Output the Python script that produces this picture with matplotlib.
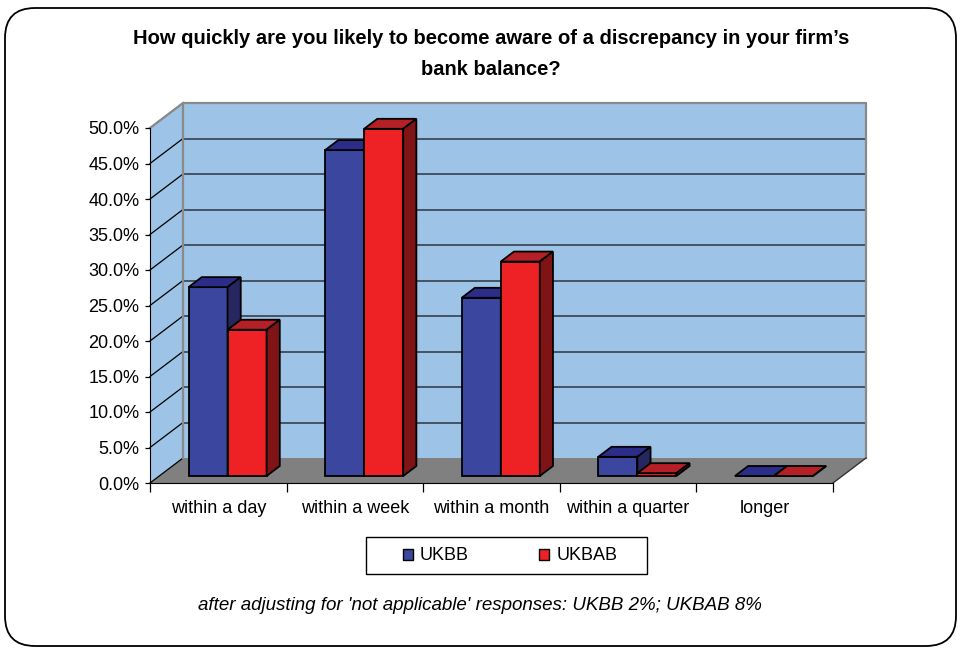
import matplotlib.pyplot as plt
from matplotlib.patches import Polygon, Patch, FancyBboxPatch, Rectangle

plt.rcParams['font.family'] = ['Liberation Sans', 'DejaVu Sans']

categories = ['within a day', 'within a week', 'within a month', 'within a quarter', 'longer']
ukbb = [26.6, 45.9, 25.1, 2.7, 0.0]
ukbab = [20.6, 48.9, 30.2, 0.4, 0.0]
series_names = ['UKBB', 'UKBAB']
y_ticks = [0, 5, 10, 15, 20, 25, 30, 35, 40, 45, 50]

# face colours: front, top, side
blue = ('#3b469e', '#2c2d88', '#262660')
red = ('#ee2224', '#b42025', '#7e1416')

# depth of the 3d box in data units (x in categories, y in percent)
DX, DY = 0.2416, 3.52
ymax = 50

fig = plt.figure(figsize=(9.61, 6.5), dpi=100)
ax = fig.add_axes([150 / 961, 1 - 483 / 650, 717 / 961, 382 / 650])
ax.set_xlim(0, 717 / 136.6)
ax.set_ylim(0, 382 / 7.1)
n = len(categories)


def poly(pts, fc, ec='none', lw=1.0, z=1):
    p = Polygon(pts, closed=True, facecolor=fc, edgecolor=ec, linewidth=lw,
                zorder=z, clip_on=False, joinstyle='miter')
    ax.add_patch(p)


# walls and floor
wall = '#9dc3e6'
poly([(DX, DY), (n + DX, DY), (n + DX, ymax + DY), (DX, ymax + DY)], wall, z=0)
poly([(0, 0), (DX, DY), (DX, ymax + DY), (0, ymax)], wall, z=0)
poly([(0, 0), (n, 0), (n + DX, DY), (DX, DY)], '#808080', z=0.5)

for t in y_ticks[1:]:
    ax.plot([DX, n + DX], [t + DY, t + DY], color='#2e3540', lw=1.1, zorder=1, clip_on=False)
for t in y_ticks:
    ax.plot([0, DX], [t, t + DY], color='black', lw=0.9, zorder=1, clip_on=False)

# wall borders
ax.plot([DX, DX, n + DX, n + DX], [DY, ymax + DY, ymax + DY, DY],
        color='#8a8a8a', lw=1.6, zorder=1.5, clip_on=False)
ax.plot([0, DX], [ymax, ymax + DY], color='#8a8a8a', lw=1.6, zorder=1.5, clip_on=False)
ax.plot([n, n + DX], [0, DY], color='#333333', lw=1.0, zorder=1.5, clip_on=False)

# bars
bw = 1 / 3.5
z0, z1 = 0.28, 0.68
for i in range(n):
    for s, (vals, cols) in enumerate([(ukbb, blue), (ukbab, red)]):
        v = vals[i]
        xl = i + 0.75 * bw + s * bw + z0 * DX
        xr = xl + bw
        y0 = z0 * DY
        ddx, ddy = (z1 - z0) * DX, (z1 - z0) * DY
        zz = 3 + i * 2 + s
        poly([(xl, y0), (xr, y0), (xr, y0 + v), (xl, y0 + v)], cols[0], 'black', 1.3, zz)
        poly([(xl, y0 + v), (xr, y0 + v), (xr + ddx, y0 + v + ddy), (xl + ddx, y0 + v + ddy)],
             cols[1], 'black', 1.3, zz)
        poly([(xr, y0), (xr + ddx, y0 + ddy), (xr + ddx, y0 + v + ddy), (xr, y0 + v)],
             cols[2], 'black', 1.3, zz)

# axes
for side in ['top', 'right']:
    ax.spines[side].set_visible(False)
ax.spines['left'].set_bounds(0, ymax)
ax.spines['bottom'].set_bounds(0, n)
ax.spines['left'].set_zorder(2)
ax.spines['bottom'].set_zorder(2)
ax.set_yticks(y_ticks)
ax.set_yticklabels([f'{t:.1f}%' for t in y_ticks], fontsize=13)
ax.tick_params(axis='y', length=3.5, width=0.9, pad=4)
ax.set_xticks(range(n + 1))
ax.set_xticklabels([])
ax.set_xticks([i + 0.5 for i in range(n)], minor=True)
ax.set_xticklabels(categories, minor=True, fontsize=13)
ax.tick_params(axis='x', which='major', length=6.5, width=0.9)
ax.tick_params(axis='x', which='minor', length=0, pad=12)
ax.patch.set_visible(False)

fig.text(491 / 961, 1 - 54 / 650,
         'How quickly are you likely to become aware of a discrepancy in your firm\u2019s\nbank balance?',
         ha='center', va='center', fontsize=14.5, fontweight='bold', linespacing=1.8)

# legend, with its box drawn separately for the wide side padding
handles = [Patch(facecolor=blue[0], edgecolor='black', linewidth=1.0),
           Patch(facecolor=red[0], edgecolor='black', linewidth=1.0)]
fig.legend(handles, series_names, loc='center', bbox_to_anchor=(510 / 961, 1 - 556 / 650),
           ncol=2, fontsize=13, frameon=False,
           handlelength=0.55, handleheight=0.55, handletextpad=0.4, columnspacing=3.9,
           borderpad=0, borderaxespad=0)
fig.patches.append(Rectangle((3.66, 6.5 - 5.74), 2.81, 0.37, transform=fig.dpi_scale_trans,
                             facecolor='none', edgecolor='black', linewidth=1.0))

fig.text(480 / 961, 1 - 606 / 650,
         "after adjusting for 'not applicable' responses: UKBB 2%; UKBAB 8%",
         ha='center', va='center', fontsize=13.5, style='italic')

# rounded outer frame
frame = FancyBboxPatch((5 / 100, 4 / 100), 9.51, 6.38,
                       boxstyle='round,pad=0,rounding_size=0.3',
                       transform=fig.dpi_scale_trans, facecolor='none',
                       edgecolor='black', linewidth=1.3)
fig.patches.append(frame)

fig.savefig('out.png', dpi=100)
